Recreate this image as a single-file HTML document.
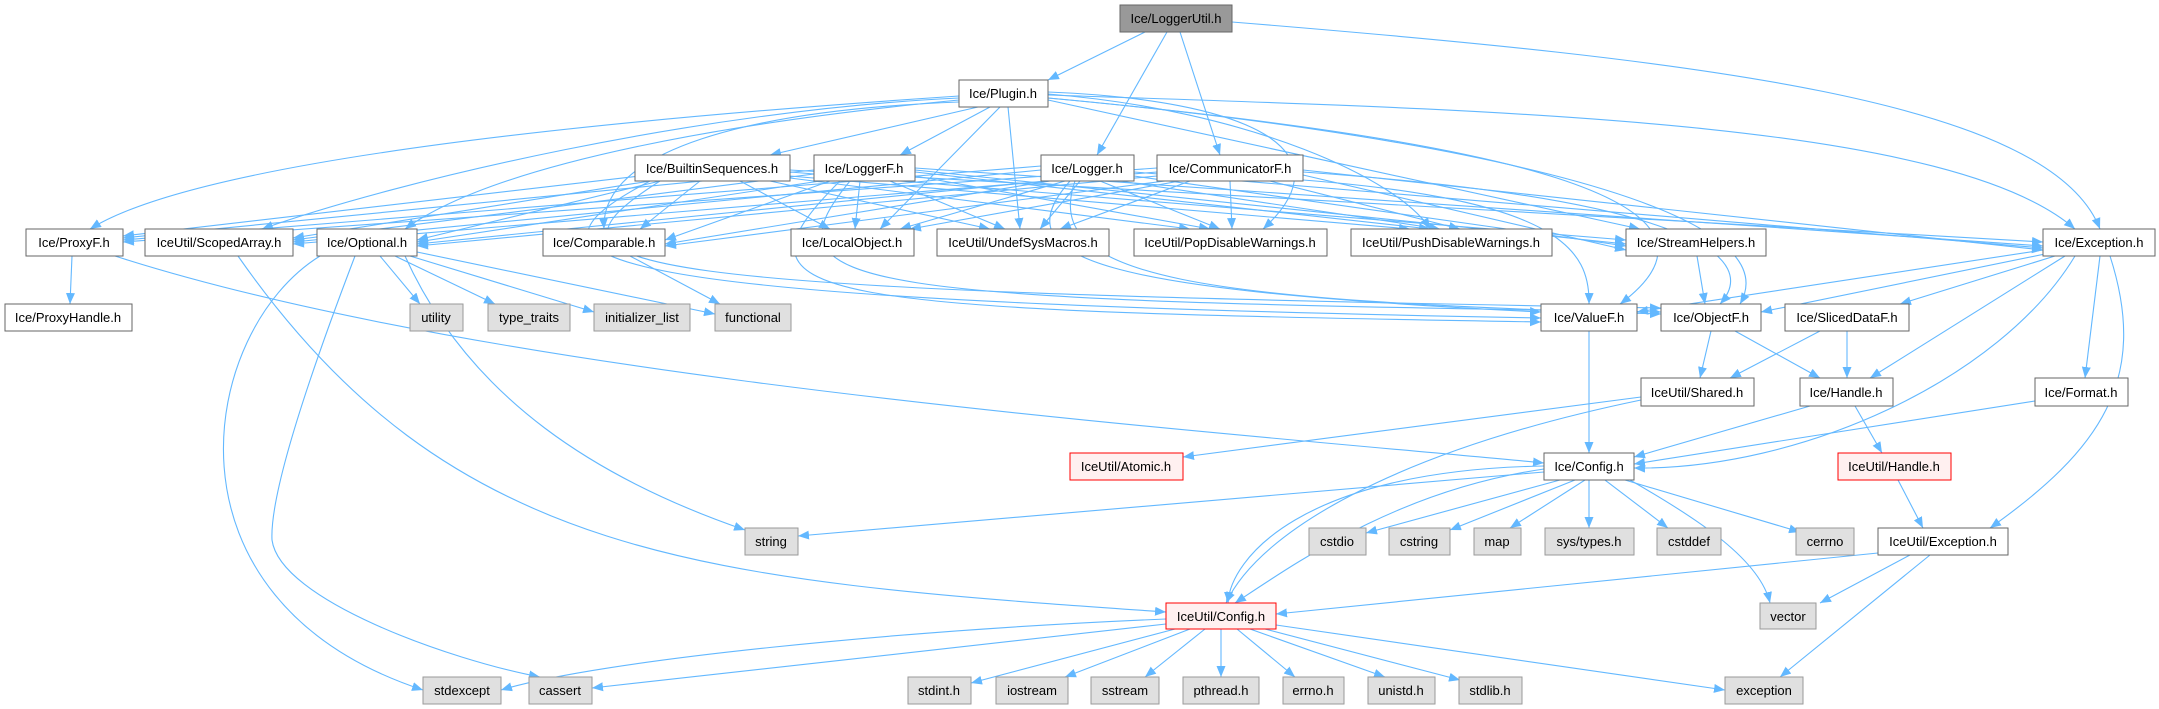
<!DOCTYPE html>
<html><head><meta charset="utf-8"><style>
html,body{margin:0;padding:0;background:#fff}
svg{display:block}
text{font-family:"Liberation Sans",Arial,sans-serif;font-size:13px;fill:#000}
.e{fill:none;stroke:#63b8ff;stroke-width:1.1;marker-end:url(#a)}
.n rect{fill:#fff;stroke:#666;stroke-width:1}
.g rect{fill:#e0e0e0;stroke:#999;stroke-width:1}
.r rect{fill:#fff0f0;stroke:#f00;stroke-width:1}
.t rect{fill:#999;stroke:#666;stroke-width:1}
</style></head><body>
<svg width="2159" height="709" viewBox="0 0 2159 709" xmlns="http://www.w3.org/2000/svg">
<defs><marker id="a" markerUnits="userSpaceOnUse" markerWidth="12" markerHeight="10" refX="11" refY="4.5" orient="auto"><path d="M0,0 L11,4.5 L0,9 z" fill="#63b8ff"/></marker></defs>
<g>
<path class="e" d="M1145,32 L1048,80"/>
<path class="e" d="M1167,32 L1097,155"/>
<path class="e" d="M1180,32 L1220,155"/>
<path class="e" d="M1232,22 C1700,60 2050,100 2100,229"/>
<path class="e" d="M959,96 C600,120 200,160 90,229"/>
<path class="e" d="M959,98 C700,110 400,180 262,229"/>
<path class="e" d="M959,100 C750,120 500,160 405,229"/>
<path class="e" d="M959,102 C750,110 600,150 604,229"/>
<path class="e" d="M978,107 L770,155"/>
<path class="e" d="M990,107 L900,155"/>
<path class="e" d="M1000,107 L880,229"/>
<path class="e" d="M1008,107 L1020,229"/>
<path class="e" d="M1048,92 C1250,100 1350,150 1263,229"/>
<path class="e" d="M1048,94 C1250,110 1400,180 1430,229"/>
<path class="e" d="M1048,100 L1640,229"/>
<path class="e" d="M1048,95 C1500,110 1950,120 2075,229"/>
<path class="e" d="M1048,98 C1400,130 1800,200 1740,304"/>
<path class="e" d="M1048,98 C1500,140 1760,200 1620,304"/>
<!-- Builtin -->
<path class="e" d="M640,176 L123,236"/>
<path class="e" d="M650,181 L293,238"/>
<path class="e" d="M660,181 L417,240"/>
<path class="e" d="M700,181 L640,229"/>
<path class="e" d="M740,181 L830,229"/>
<path class="e" d="M770,181 L990,229"/>
<path class="e" d="M790,178 L1190,229"/>
<path class="e" d="M790,176 L1410,229"/>
<path class="e" d="M790,172 L1626,240"/>
<path class="e" d="M790,170 L2043,242"/>
<path class="e" d="M650,181 C500,260 560,300 1541,318"/>
<path class="e" d="M660,181 C520,270 600,290 1661,308"/>
<!-- LoggerF -->
<path class="e" d="M814,170 L123,238"/>
<path class="e" d="M814,174 L293,240"/>
<path class="e" d="M820,181 L417,242"/>
<path class="e" d="M830,181 L665,240"/>
<path class="e" d="M860,181 L855,229"/>
<path class="e" d="M890,181 L1005,229"/>
<path class="e" d="M915,176 L1210,229"/>
<path class="e" d="M915,172 L1430,229"/>
<path class="e" d="M915,170 L1626,244"/>
<path class="e" d="M915,168 L2043,246"/>
<path class="e" d="M840,181 C720,300 800,310 1541,322"/>
<path class="e" d="M850,181 C760,290 850,300 1661,312"/>
<!-- Logger -->
<path class="e" d="M1041,166 L123,240"/>
<path class="e" d="M1041,170 L293,242"/>
<path class="e" d="M1045,181 L417,244"/>
<path class="e" d="M1050,181 L665,244"/>
<path class="e" d="M1065,181 L900,229"/>
<path class="e" d="M1080,181 L1040,229"/>
<path class="e" d="M1100,181 L1220,229"/>
<path class="e" d="M1120,181 L1440,229"/>
<path class="e" d="M1134,176 L1626,246"/>
<path class="e" d="M1134,172 L2043,248"/>
<path class="e" d="M1070,181 C1000,260 1100,290 1541,312"/>
<path class="e" d="M1075,181 C1040,280 1200,300 1661,314"/>
<!-- CommunicatorF -->
<path class="e" d="M1157,168 L123,242"/>
<path class="e" d="M1157,172 L293,244"/>
<path class="e" d="M1157,176 L417,246"/>
<path class="e" d="M1165,181 L665,246"/>
<path class="e" d="M1180,181 L910,229"/>
<path class="e" d="M1190,181 L1060,229"/>
<path class="e" d="M1230,181 L1232,229"/>
<path class="e" d="M1270,181 L1460,229"/>
<path class="e" d="M1303,175 L1626,250"/>
<path class="e" d="M1303,170 L2043,250"/>
<path class="e" d="M1303,180 C1560,200 1590,250 1589,304"/>
<path class="e" d="M1303,172 C1700,200 1760,260 1720,304"/>
<!-- lower -->
<path class="e" d="M72,256 L70,304"/>
<path class="e" d="M115,256 C500,380 1200,430 1544,463"/>
<path class="e" d="M238,256 C450,560 700,580 1166,612"/>
<path class="e" d="M380,256 L420,304"/>
<path class="e" d="M395,256 L495,304"/>
<path class="e" d="M410,256 L594,312"/>
<path class="e" d="M417,252 L715,314"/>
<path class="e" d="M405,256 C470,400 600,480 745,530"/>
<path class="e" d="M320,256 C200,330 150,600 423,690"/>
<path class="e" d="M355,256 C300,400 270,500 272,540 C280,600 450,660 540,677"/>
<path class="e" d="M630,256 L720,304"/>
<path class="e" d="M1697,256 L1705,304"/>
<path class="e" d="M2043,250 L1637,312"/>
<path class="e" d="M2045,254 L1761,312"/>
<path class="e" d="M2055,256 L1900,304"/>
<path class="e" d="M2065,256 L1870,378"/>
<path class="e" d="M2075,256 C2000,380 1800,470 1634,468"/>
<path class="e" d="M2100,256 L2085,378"/>
<path class="e" d="M2110,256 C2150,380 2100,450 1990,528"/>
<path class="e" d="M1589,331 L1589,453"/>
<path class="e" d="M1711,331 L1700,378"/>
<path class="e" d="M1735,331 L1820,378"/>
<path class="e" d="M1820,331 L1730,378"/>
<path class="e" d="M1847,331 L1847,378"/>
<path class="e" d="M1641,397 L1183,457"/>
<path class="e" d="M1641,400 C1400,450 1260,530 1226,603"/>
<path class="e" d="M1810,406 L1634,457"/>
<path class="e" d="M1855,406 L1882,453"/>
<path class="e" d="M2035,401 L1634,464"/>
<path class="e" d="M1898,480 L1923,528"/>
<path class="e" d="M1544,472 L798,536"/>
<path class="e" d="M1544,469 C1400,490 1300,560 1235,603"/>
<path class="e" d="M1544,466 C1300,470 1230,560 1228,603"/>
<path class="e" d="M1560,480 L1366,533"/>
<path class="e" d="M1575,480 L1450,530"/>
<path class="e" d="M1585,480 L1510,528"/>
<path class="e" d="M1589,480 L1589,528"/>
<path class="e" d="M1605,480 L1668,528"/>
<path class="e" d="M1625,480 L1800,532"/>
<path class="e" d="M1630,480 C1700,520 1760,560 1770,603"/>
<path class="e" d="M1878,553 L1276,614"/>
<path class="e" d="M1910,555 L1820,603"/>
<path class="e" d="M1930,555 L1780,677"/>
<path class="e" d="M1166,619 C900,630 600,660 501,690"/>
<path class="e" d="M1166,624 L592,688"/>
<path class="e" d="M1175,629 L971,683"/>
<path class="e" d="M1190,629 L1065,677"/>
<path class="e" d="M1205,629 L1145,677"/>
<path class="e" d="M1221,629 L1221,677"/>
<path class="e" d="M1237,629 L1295,677"/>
<path class="e" d="M1250,629 L1385,677"/>
<path class="e" d="M1265,629 L1460,680"/>
<path class="e" d="M1276,625 L1725,690"/>
</g>
<g text-anchor="middle">
<g class="t"><rect x="1120" y="5" width="112" height="27"/><text x="1176" y="23">Ice/LoggerUtil.h</text></g>
<g class="n"><rect x="959" y="80" width="89" height="27"/><text x="1003" y="98">Ice/Plugin.h</text></g>
<g class="n"><rect x="635" y="155" width="155" height="26"/><text x="712" y="173">Ice/BuiltinSequences.h</text></g>
<g class="n"><rect x="814" y="155" width="101" height="26"/><text x="864" y="173">Ice/LoggerF.h</text></g>
<g class="n"><rect x="1041" y="155" width="93" height="26"/><text x="1087" y="173">Ice/Logger.h</text></g>
<g class="n"><rect x="1157" y="155" width="146" height="26"/><text x="1230" y="173">Ice/CommunicatorF.h</text></g>
<g class="n"><rect x="26" y="229" width="97" height="27"/><text x="74" y="247">Ice/ProxyF.h</text></g>
<g class="n"><rect x="145" y="229" width="148" height="27"/><text x="219" y="247">IceUtil/ScopedArray.h</text></g>
<g class="n"><rect x="317" y="229" width="100" height="27"/><text x="367" y="247">Ice/Optional.h</text></g>
<g class="n"><rect x="543" y="229" width="122" height="27"/><text x="604" y="247">Ice/Comparable.h</text></g>
<g class="n"><rect x="791" y="229" width="123" height="27"/><text x="852" y="247">Ice/LocalObject.h</text></g>
<g class="n"><rect x="937" y="229" width="172" height="27"/><text x="1023" y="247">IceUtil/UndefSysMacros.h</text></g>
<g class="n"><rect x="1134" y="229" width="193" height="27"/><text x="1230" y="247">IceUtil/PopDisableWarnings.h</text></g>
<g class="n"><rect x="1351" y="229" width="201" height="27"/><text x="1451" y="247">IceUtil/PushDisableWarnings.h</text></g>
<g class="n"><rect x="1626" y="229" width="140" height="27"/><text x="1696" y="247">Ice/StreamHelpers.h</text></g>
<g class="n"><rect x="2043" y="229" width="112" height="27"/><text x="2099" y="247">Ice/Exception.h</text></g>
<g class="n"><rect x="5" y="304" width="127" height="27"/><text x="68" y="322">Ice/ProxyHandle.h</text></g>
<g class="g"><rect x="410" y="304" width="53" height="27"/><text x="436" y="322">utility</text></g>
<g class="g"><rect x="488" y="304" width="82" height="27"/><text x="529" y="322">type_traits</text></g>
<g class="g"><rect x="594" y="304" width="96" height="27"/><text x="642" y="322">initializer_list</text></g>
<g class="g"><rect x="715" y="304" width="76" height="27"/><text x="753" y="322">functional</text></g>
<g class="n"><rect x="1541" y="304" width="96" height="27"/><text x="1589" y="322">Ice/ValueF.h</text></g>
<g class="n"><rect x="1661" y="304" width="100" height="27"/><text x="1711" y="322">Ice/ObjectF.h</text></g>
<g class="n"><rect x="1785" y="304" width="124" height="27"/><text x="1847" y="322">Ice/SlicedDataF.h</text></g>
<g class="n"><rect x="1641" y="378" width="113" height="28"/><text x="1697" y="397">IceUtil/Shared.h</text></g>
<g class="n"><rect x="1800" y="378" width="93" height="28"/><text x="1846" y="397">Ice/Handle.h</text></g>
<g class="n"><rect x="2035" y="378" width="93" height="28"/><text x="2081" y="397">Ice/Format.h</text></g>
<g class="r"><rect x="1070" y="453" width="113" height="27"/><text x="1126" y="471">IceUtil/Atomic.h</text></g>
<g class="n"><rect x="1544" y="453" width="90" height="27"/><text x="1589" y="471">Ice/Config.h</text></g>
<g class="r"><rect x="1838" y="453" width="113" height="27"/><text x="1894" y="471">IceUtil/Handle.h</text></g>
<g class="g"><rect x="745" y="528" width="53" height="27"/><text x="771" y="546">string</text></g>
<g class="g"><rect x="1309" y="528" width="57" height="27"/><text x="1337" y="546">cstdio</text></g>
<g class="g"><rect x="1389" y="528" width="61" height="27"/><text x="1419" y="546">cstring</text></g>
<g class="g"><rect x="1474" y="528" width="47" height="27"/><text x="1497" y="546">map</text></g>
<g class="g"><rect x="1545" y="528" width="89" height="27"/><text x="1589" y="546">sys/types.h</text></g>
<g class="g"><rect x="1657" y="528" width="64" height="27"/><text x="1689" y="546">cstddef</text></g>
<g class="g"><rect x="1796" y="528" width="58" height="27"/><text x="1825" y="546">cerrno</text></g>
<g class="n"><rect x="1878" y="528" width="130" height="27"/><text x="1943" y="546">IceUtil/Exception.h</text></g>
<g class="r"><rect x="1166" y="603" width="110" height="26"/><text x="1221" y="621">IceUtil/Config.h</text></g>
<g class="g"><rect x="1760" y="603" width="56" height="26"/><text x="1788" y="621">vector</text></g>
<g class="g"><rect x="423" y="677" width="78" height="27"/><text x="462" y="695">stdexcept</text></g>
<g class="g"><rect x="529" y="677" width="63" height="27"/><text x="560" y="695">cassert</text></g>
<g class="g"><rect x="908" y="677" width="63" height="27"/><text x="939" y="695">stdint.h</text></g>
<g class="g"><rect x="996" y="677" width="72" height="27"/><text x="1032" y="695">iostream</text></g>
<g class="g"><rect x="1091" y="677" width="68" height="27"/><text x="1125" y="695">sstream</text></g>
<g class="g"><rect x="1183" y="677" width="76" height="27"/><text x="1221" y="695">pthread.h</text></g>
<g class="g"><rect x="1283" y="677" width="61" height="27"/><text x="1313" y="695">errno.h</text></g>
<g class="g"><rect x="1368" y="677" width="67" height="27"/><text x="1401" y="695">unistd.h</text></g>
<g class="g"><rect x="1459" y="677" width="63" height="27"/><text x="1490" y="695">stdlib.h</text></g>
<g class="g"><rect x="1725" y="677" width="78" height="27"/><text x="1764" y="695">exception</text></g>
</g>
</svg>
</body></html>
